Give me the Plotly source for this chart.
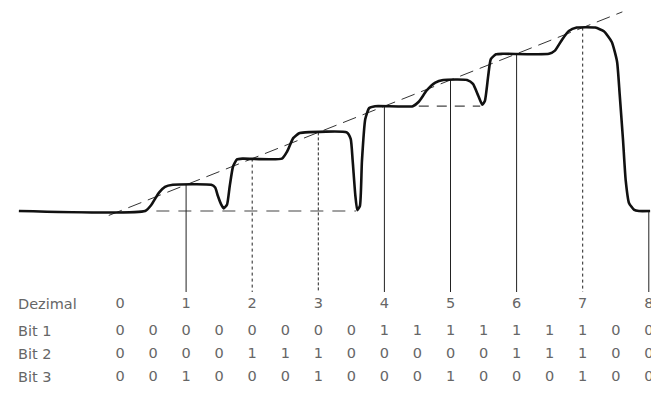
import plotly.graph_objects as go

# ---------------- data ----------------
decimal_labels = ["0", "1", "2", "3", "4", "5", "6", "7", "8"]
decimal_vals = [0, 1, 2, 3, 4, 5, 6, 7, 8]

# bit table columns at half-code steps 0, 0.5, ..., 8
bit_cols = [i / 2 for i in range(17)]
bit1 = [0, 0, 0, 0, 0, 0, 0, 0, 1, 1, 1, 1, 1, 1, 1, 0, 0]
bit2 = [0, 0, 0, 0, 1, 1, 1, 0, 0, 0, 0, 0, 1, 1, 1, 0, 0]
bit3 = [0, 0, 1, 0, 0, 0, 1, 0, 0, 0, 1, 0, 0, 0, 1, 0, 0]
row_names = ["Dezimal", "Bit 1", "Bit 2", "Bit 3"]

# DAC output waveform (time in code units, output in LSB levels)
wave_t = [-1.53, 0.38, 0.47, 0.59, 0.68, 0.80, 1.38, 1.44, 1.48, 1.53, 1.57, 1.62,
          1.66, 1.71, 1.77, 1.86, 2.45, 2.53, 2.62, 2.71, 2.80, 3.43, 3.49, 3.52,
          3.56, 3.59, 3.63, 3.66, 3.71, 3.77, 3.86, 4.43, 4.52, 4.64, 4.77, 4.89,
          5.25, 5.34, 5.42, 5.48, 5.52, 5.57, 5.61, 5.69, 5.79, 6.49, 6.58, 6.69,
          6.79, 6.91, 7.19, 7.32, 7.44, 7.52, 7.56, 7.61, 7.65, 7.70, 7.78, 7.85, 8.02]
wave_v = [0, 0, 0.22, 0.7, 0.92, 1.0, 1.0, 0.9, 0.58, 0.25, 0.1, 0.25,
          0.95, 1.7, 1.97, 2.0, 2.0, 2.28, 2.78, 2.97, 3.0, 3.0, 2.75, 1.92,
          0.6, 0.03, 0.2, 1.9, 3.5, 3.93, 4.0, 4.0, 4.17, 4.6, 4.9, 5.0,
          5.0, 4.85, 4.4, 4.06, 4.2, 5.15, 5.8, 5.98, 6.0, 6.0, 6.12, 6.55,
          6.87, 7.0, 7.0, 6.86, 6.45, 5.7, 4.43, 2.71, 1.18, 0.31, 0.04, 0, 0]

ideal_t = [-0.17, 7.6]          # ideal transfer line (output = code)
zero_ref_t = [0.55, 3.57]       # dashed reference at level 0
four_ref_t = [4.52, 5.45]       # dashed reference at level 4

# ---------------- layout geometry ----------------
W, H = 651, 402
X0_PX, PX_PER_CODE = 120.0, 66.1
BASE_PX, PX_PER_LEVEL = 211.0, 26.2


def lev(py):
    return (BASE_PX - py) / PX_PER_LEVEL


x_range = [-X0_PX / PX_PER_CODE, (W - X0_PX) / PX_PER_CODE]
y_range = [lev(H), lev(0)]

row_y = [lev(304), lev(331), lev(354), lev(377)]
vline_bottom = lev(292)

TEXT_COLOR = "#666666"
FONT = "DejaVu Sans, Liberation Sans, sans-serif"
FS = 14.5

fig = go.Figure()

# ideal line and reference dashes
fig.add_trace(go.Scatter(x=ideal_t, y=ideal_t, mode="lines",
                         line=dict(color="#333", width=1, dash="14px,7px"),
                         hoverinfo="skip"))
fig.add_trace(go.Scatter(x=zero_ref_t, y=[0, 0], mode="lines",
                         line=dict(color="#444", width=1.2, dash="13px,9px"),
                         hoverinfo="skip"))
fig.add_trace(go.Scatter(x=four_ref_t, y=[4, 4], mode="lines",
                         line=dict(color="#444", width=1.2, dash="10px,8px"),
                         hoverinfo="skip"))

# vertical marker lines at each code
codes = [bit1[2 * d] * 4 + bit2[2 * d] * 2 + bit3[2 * d] for d in decimal_vals]
styles = {1: "solid", 2: "dot", 3: "3px,2px", 4: "solid", 5: "solid",
          6: "solid", 7: "dot", 8: "solid"}
for d in decimal_vals[1:]:
    fig.add_trace(go.Scatter(x=[d, d], y=[codes[d], vline_bottom], mode="lines",
                             line=dict(color="#222", width=1, dash=styles[d]),
                             hoverinfo="skip"))

# waveform
fig.add_trace(go.Scatter(x=wave_t, y=wave_v, mode="lines",
                         line=dict(color="#111", width=2.6, shape="spline",
                                   smoothing=0.5),
                         hoverinfo="skip"))

# decimal row
fig.add_trace(go.Scatter(x=decimal_vals, y=[row_y[0]] * len(decimal_vals),
                         mode="text", text=decimal_labels,
                         textfont=dict(family=FONT, size=FS, color=TEXT_COLOR),
                         hoverinfo="skip", cliponaxis=False))
# bit rows
for r, bits in enumerate([bit1, bit2, bit3]):
    fig.add_trace(go.Scatter(x=bit_cols, y=[row_y[r + 1]] * len(bit_cols),
                             mode="text", text=[str(b) for b in bits],
                             textfont=dict(family=FONT, size=FS, color=TEXT_COLOR),
                             hoverinfo="skip", cliponaxis=False))

for name, y in zip(row_names, row_y):
    fig.add_annotation(x=16 / W, xref="paper", y=y, yref="y", text=name,
                       showarrow=False, xanchor="left", yanchor="middle",
                       font=dict(family=FONT, size=FS, color=TEXT_COLOR))

fig.update_layout(
    width=W, height=H, margin=dict(l=0, r=0, t=0, b=0),
    paper_bgcolor="white", plot_bgcolor="white", showlegend=False,
    xaxis=dict(range=x_range, visible=False, fixedrange=True),
    yaxis=dict(range=y_range, visible=False, fixedrange=True),
)

fig.write_html("out.html", config={"displayModeBar": False},
               post_script="document.body.style.margin='0';document.body.style.overflow='hidden';")
